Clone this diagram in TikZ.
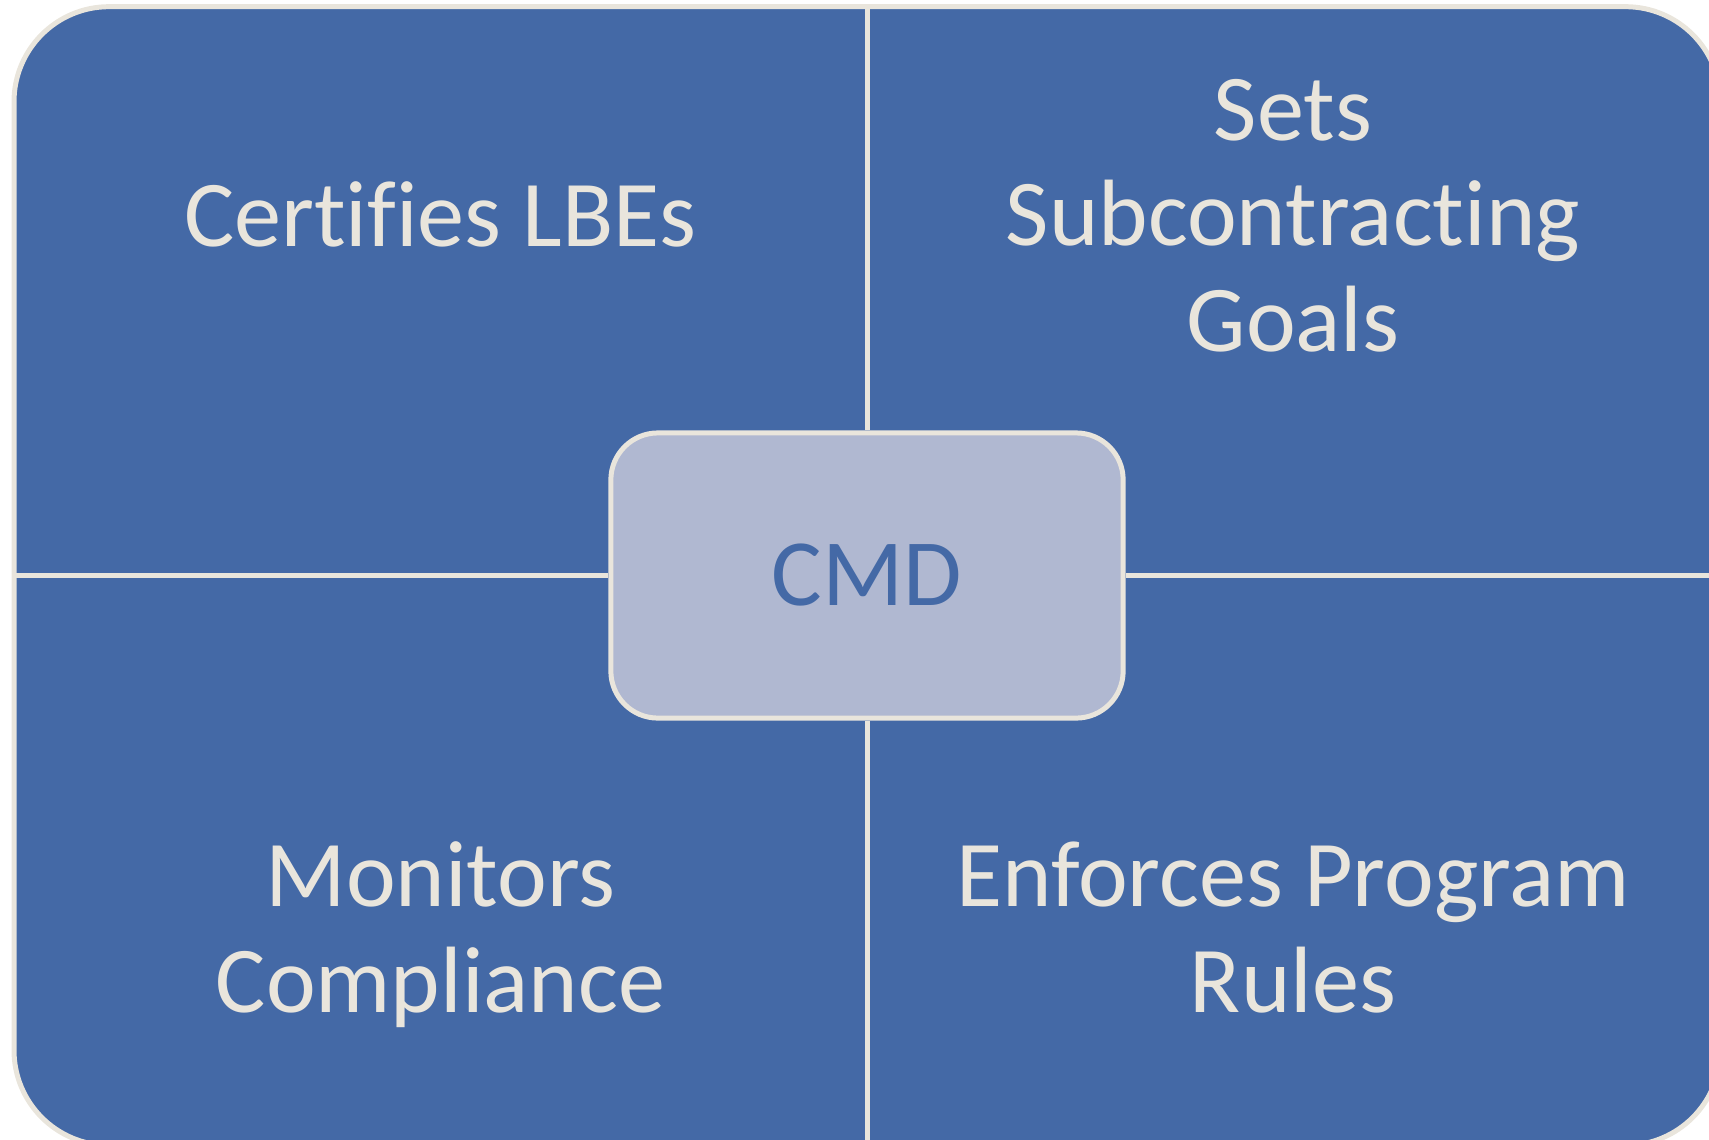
\documentclass[tikz,border=0pt]{standalone}
\usepackage{fontspec}
\setmainfont[Ligatures = NoCommon]{Carlito}
\definecolor{panel}{HTML}{4469A6}
\definecolor{paper}{HTML}{E9E5DC}
\definecolor{hubfill}{HTML}{B0B8D1}
\begin{document}
\begin{tikzpicture}[x=0.01cm, y=-0.01cm,
quad/.style={text = paper, font = \fontsize{26.8}{29.9}\selectfont, align = center, anchor = base},
hub/.style={draw = paper, line width = 1.42pt, fill = hubfill, rounded corners = 0.47cm, minimum width = 5.12cm, minimum height = 2.85cm, text = panel, font = \fontsize{27}{28}\selectfont}]
\useasboundingbox (0,0) rectangle (1709,1139);
\clip (0,0) rectangle (1709,1139);
\node (frame) [draw = paper, line width = 1.42pt, fill = panel, rounded corners = 0.95cm, minimum width = 17.055cm, minimum height = 11.38cm] at (867.25,576){};
\node (hub) [hub] at (867,575.5){CMD};
% dividers between the four fields
\draw[paper, line width = 1.42pt] (hub.north) -- (hub.north |- frame.north) (hub.south) -- (hub.south |- frame.south);
\draw[paper, line width = 1.42pt] (hub.west) -- (hub.west -| frame.west) (hub.east) -- (hub.east -| frame.east);
% base sits on the last line
\node (certify) [quad] at (440.5,246){Certifies LBEs};
\node (goals) [quad] at (1293,351){Sets\\Subcontracting\\Goals};
\node (monitor) [quad] at (440.5,1012){Monitors\\Compliance};
\node (enforce) [quad] at (1293,1012){Enforces Program\\Rules};
\end{tikzpicture}
\end{document}
